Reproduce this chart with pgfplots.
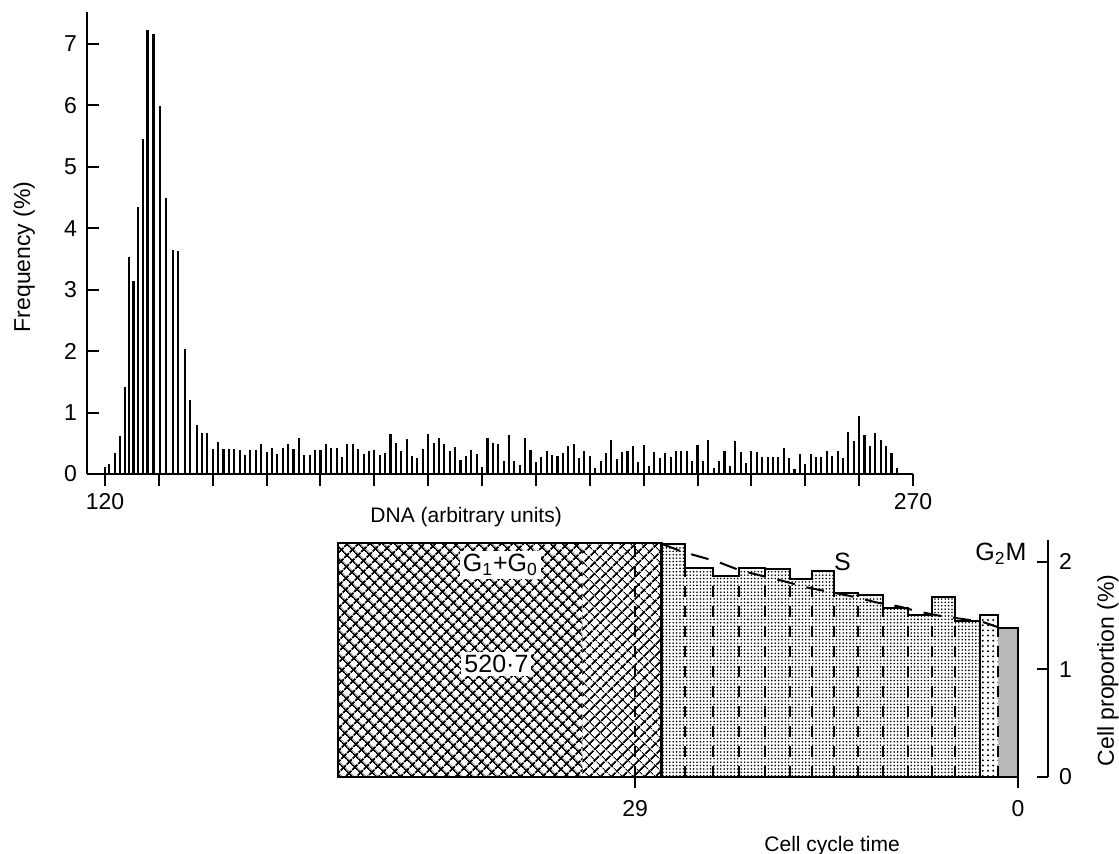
\documentclass[border=0pt]{standalone}
\usepackage{pgfplots}
\pgfplotsset{compat=1.18}
\usepackage{fontspec}
\setmainfont{Liberation Sans}
\usetikzlibrary{patterns.meta}
\begin{document}
\begin{tikzpicture}[x=1pt,y=1pt]
\useasboundingbox (0,0) rectangle (559.5,-427);
% ---------------- top: DNA histogram ----------------
\begin{axis}[
  at={(43.5pt,-237pt)}, anchor=south west,
  scale only axis, width=413pt, height=231pt,
  xmin=116.66, xmax=270, ymin=0, ymax=7.52,
  axis x line=bottom, axis y line=left,
  axis line style={-, line width=1.1pt},
  tick align=inside, major tick length=6pt,
  tick style={line width=1pt, black},
  x tick style={yshift=-6pt},
  xtick={120,130,...,270},
  xticklabels={120,,,,,,,,,,,,,,,270},
  ytick={0,1,...,7},
  /pgf/number format/assume math mode=true,
  tick label style={font=\fontsize{11.5}{13}\selectfont},
  xticklabel style={yshift=-6pt},
  yticklabel style={xshift=-1.5pt},
  xlabel={DNA (arbitrary units)},
  xlabel style={at={(axis description cs:0.459,-0.093)}, anchor=center, font=\fontsize{10.5}{12}\selectfont},
  ylabel={Frequency (\%)},
  ylabel style={at={(axis description cs:-0.076,0.47)}, anchor=center, font=\fontsize{11.5}{13}\selectfont},
  clip=false,
]
\addplot[ycomb, line width=1.05pt, black] coordinates {
(120.0,0.11)(120.8,0.17)(121.9,0.34)(122.8,0.62)(123.7,1.41)(124.4,3.54)(125.3,3.14)(126.2,4.34)
(127.0,5.46)(127.9,7.23)(129.0,7.17)(130.2,5.99)(131.4,4.49)(132.6,3.65)(133.6,3.63)(134.8,2.04)
(135.8,1.20)(137,0.79)(138,0.66)(139,0.66)(140,0.41)(141,0.52)(142,0.40)(143,0.40)(144,0.40)
(145,0.39)(146,0.31)(147,0.39)(148,0.39)(149,0.49)(150,0.36)(151,0.42)(152,0.33)(153,0.42)
(154,0.49)(155,0.40)(156,0.58)(157,0.31)(158,0.31)(159,0.39)(160,0.39)(161,0.49)(162,0.42)
(163,0.42)(164,0.28)(165,0.49)(166,0.49)(167,0.41)(168,0.32)(169,0.37)(170,0.39)(171,0.31)
(172,0.34)(173,0.65)(174,0.51)(175,0.38)(176,0.57)(177,0.30)(178,0.26)(179,0.41)(180,0.65)
(181,0.50)(182,0.58)(183,0.49)(184,0.38)(185,0.44)(186,0.22)(187,0.29)(188,0.39)(189,0.33)
(190,0.11)(191,0.59)(192,0.50)(193,0.49)(194,0.21)(195,0.64)(196,0.21)(197,0.14)(198,0.58)
(199,0.39)(200,0.19)(201,0.28)(202,0.38)(203,0.31)(204,0.30)(205,0.34)(206,0.45)(207,0.49)
(208,0.26)(209,0.37)(210,0.29)(211,0.09)(212,0.21)(213,0.34)(214,0.56)(215,0.24)(216,0.36)
(217,0.38)(218,0.45)(219,0.20)(220,0.47)(221,0.13)(222,0.35)(223,0.26)(224,0.34)(225,0.27)
(226,0.37)(227,0.38)(228,0.37)(229,0.21)(230,0.48)(231,0.21)(232,0.56)(233,0.10)(234,0.21)
(235,0.37)(236,0.13)(237,0.54)(238,0.36)(239,0.18)(240,0.37)(241,0.35)(242,0.27)(243,0.27)
(244,0.27)(245,0.27)(246,0.43)(247,0.26)(248,0.08)(249,0.33)(250,0.17)(251,0.33)(252,0.27)
(253,0.27)(254,0.38)(255,0.29)(256,0.37)(257,0.26)(258,0.68)(259,0.53)(260,0.95)(261,0.64)
(262,0.46)(263,0.67)(264,0.55)(265,0.45)(266,0.34)(267,0.09)};
\end{axis}
% ---------------- bottom: cell cycle compartments ----------------
\begin{axis}[
  at={(169pt,-388.5pt)}, anchor=south west,
  scale only axis, width=355pt, height=118.5pt,
  x dir=reverse,
  xmin=-2.27, xmax=51.5, ymin=0, ymax=2.2,
  axis x line=bottom, axis y line=right,
  x axis line style={draw=none},
  y axis line style={-, line width=1.1pt},
  tick align=inside, major tick length=5.5pt,
  tick style={line width=1pt, black},
  x tick style={yshift=-5.5pt},
  xtick={0,29}, ytick={0,1,2},
  /pgf/number format/assume math mode=true,
  tick label style={font=\fontsize{11.5}{13}\selectfont},
  xticklabel style={yshift=-8pt},
  yticklabel style={xshift=2pt},
  xlabel={Cell cycle time},
  xlabel style={at={(axis description cs:0.696,-0.291)}, anchor=center, font=\fontsize{10.5}{12}\selectfont},
  ylabel={Cell proportion (\%)},
  ylabel style={at={(axis description cs:1.0845,0.45)}, anchor=center, font=\fontsize{11.5}{13}\selectfont},
  clip=false,
]
% G1+G0 compartment
\addplot[draw=none, pattern={Hatch[angle=45,distance=4pt,line width=0.95pt]}] coordinates {(51.5,2.17)(33,2.17)} \closedcycle;
\addplot[draw=none, pattern={Lines[angle=45,distance=4pt,line width=1pt]}] coordinates {(33,2.17)(27,2.17)} \closedcycle;
\addplot[draw=none, pattern={Lines[angle=-45,distance=4pt,line width=0.45pt]}] coordinates {(33,2.17)(27,2.17)} \closedcycle;
% S compartment
\addplot[const plot, draw=none, pattern={Dots[distance=1.7pt,radius=0.45pt]}] coordinates {
(27.0,2.16)(25.2,1.94)(23.1,1.87)(21.1,1.94)(19.2,1.93)(17.3,1.84)(15.6,1.91)(13.9,1.71)
(12.1,1.69)(10.2,1.57)(8.3,1.50)(6.5,1.67)(4.8,1.45)(2.9,1.45)} \closedcycle;
% G2M compartment
\addplot[draw=none, pattern={Dots[distance=2.6pt,radius=0.55pt]}] coordinates {(2.9,1.50)(1.5,1.50)} \closedcycle;
\addplot[draw=none, fill=gray!55] coordinates {(1.5,1.38)(0,1.38)} \closedcycle;
% outlines
\addplot[const plot, black, line width=1pt] coordinates {
(27.0,2.16)(25.2,1.94)(23.1,1.87)(21.1,1.94)(19.2,1.93)(17.3,1.84)(15.6,1.91)(13.9,1.71)
(12.1,1.69)(10.2,1.57)(8.3,1.50)(6.5,1.67)(4.8,1.45)(2.9,1.45)};
\addplot[black, line width=1pt] coordinates {(2.9,0)(2.9,1.50)(1.5,1.50)(1.5,1.38)(0,1.38)(0,0)};
\addplot[black, line width=1.2pt] coordinates {(27,0)(27,2.17)(51.5,2.17)(51.5,0)(0,0)};
% dashed compartment boundaries
\addplot[ycomb, black, line width=1pt, dash pattern=on 5.5pt off 4.5pt] coordinates {
(29,2.17)(25.2,1.94)(23.1,1.87)(21.1,1.87)(19.2,1.93)(17.3,1.84)(15.6,1.84)(13.9,1.71)
(12.1,1.69)(10.2,1.57)(8.3,1.50)(6.5,1.50)(4.8,1.45)(1.5,1.38)};
% fitted decline
\addplot[black, line width=1pt, dash pattern=on 9pt off 6pt] coordinates {
(26.9,2.16)(25.4,2.09)(22.8,2.00)(21.1,1.92)(19.5,1.87)(17.8,1.82)(16.0,1.76)(12.7,1.68)
(10.7,1.62)(8.9,1.58)(7.7,1.54)(6.1,1.50)(2.7,1.44)(1.5,1.39)};
\node[fill=white, inner sep=1.5pt, font=\fontsize{12.5}{14}\selectfont] at (axis cs:39.2,1.97) {G\textsubscript{1}+G\textsubscript{0}};
\node[fill=white, inner sep=1.5pt, font=\fontsize{12.5}{14}\selectfont] at (axis cs:39.5,1.05) {520·7};
\node[font=\fontsize{12.5}{14}\selectfont] at (axis cs:13.3,2.0) {S};
\node[font=\fontsize{12.5}{14}\selectfont] at (axis cs:1.3,2.07) {G\textsubscript{2}M};
\end{axis}
\end{tikzpicture}
\end{document}
